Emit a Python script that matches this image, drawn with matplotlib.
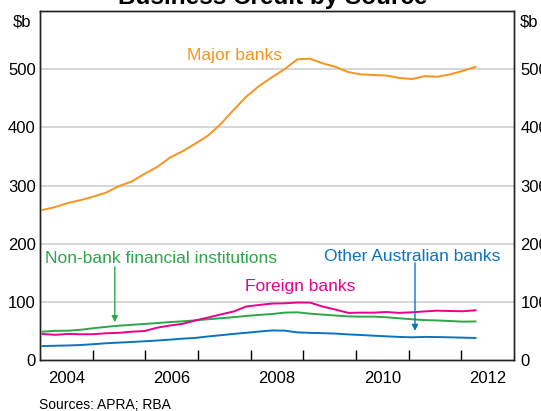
import numpy as np
import matplotlib
matplotlib.use("Agg")
import matplotlib.pyplot as plt

plt.rcParams['font.family'] = ['Liberation Sans', 'DejaVu Sans']

# evenly spaced observations, early 2004 to early 2012 (decimal years)
years = np.linspace(2004.05, 2012.27, 35)

major_banks = [258, 263, 270, 275, 281, 288, 299, 307, 320, 332, 348, 359,
               372, 386, 406, 430, 453, 471, 486, 500, 517, 518, 510, 504,
               495, 491, 490, 489, 485, 483, 488, 487, 491, 497, 504]
non_bank = [48.7, 50.2, 50.3, 52, 54.7, 57, 59, 60.5, 62, 63.5, 65.2, 66.5,
            68.2, 70, 71.8, 73.6, 75.8, 77.5, 79, 81.5, 82, 79.7, 78, 76.5,
            75, 74.5, 74.5, 73.5, 71.7, 70, 68.6, 68, 67, 65.9, 66.3]
foreign_banks = [44.7, 43.3, 44.8, 44.2, 44.4, 46, 46.7, 48.7, 49.8, 55.6, 59.3, 62.2,
                 68, 73, 78.4, 83.4, 92, 94.6, 97, 97.5, 98.8, 98.7, 91.8, 86.7,
                 81, 81.4, 81.4, 82.5, 81, 82, 83.5, 84.8, 84.2, 83.8, 85.5]
other_aus = [24, 24.5, 25, 25.8, 27.2, 28.8, 29.9, 31, 32.2, 33.5, 35, 36.7,
             38, 40.5, 42.6, 44.9, 46.8, 48.9, 50.8, 50.5, 47.5, 46.7, 46.1, 45.4,
             44, 43, 41.8, 40.7, 39.7, 39, 39.7, 39.4, 39, 38.4, 37.9]

yticks = [0, 100, 200, 300, 400, 500]
year_labels = ['2004', '2006', '2008', '2010', '2012']

orange = '#f7931e'
green = '#2ea64a'
pink = '#ec008c'
blue = '#0a74c0'

fig = plt.figure(figsize=(5.41, 4.11), dpi=100)
ax = fig.add_axes([40/541, 1-360/411, 474/541, 349/411])

for y in yticks[1:]:
    ax.axhline(y, color='#cfcfcf', lw=1.2, zorder=0)

ax.plot(years, major_banks, color=orange, lw=1.4)
ax.plot(years, non_bank, color=green, lw=1.4)
ax.plot(years, foreign_banks, color=pink, lw=1.4)
ax.plot(years, other_aus, color=blue, lw=1.4)

ax.set_xlim(2004, 2013)
ax.set_ylim(0, 600)
ax.set_yticks(yticks)
ax.tick_params(axis='y', length=0, pad=3, labelsize=12)

ax.set_xticks(np.arange(2005, 2013))
ax.set_xticklabels([])
ax.set_xticks([int(s) + 0.5 for s in year_labels], minor=True)
ax.set_xticklabels(year_labels, minor=True)
ax.tick_params(axis='x', which='major', direction='in', length=7, width=1)
ax.tick_params(axis='x', which='minor', length=0, pad=8, labelsize=12)

ax2 = ax.twinx()
ax2.set_ylim(0, 600)
ax2.set_yticks(yticks)
ax2.tick_params(axis='y', length=0, pad=4.5, labelsize=12)

for a in (ax, ax2):
    for sp in a.spines.values():
        sp.set_linewidth(1)
        sp.set_color('#222222')

ax.text(2006.785, 523, 'Major banks', color=orange, fontsize=12.5, va='center', ha='left')
ax.text(2004.09, 175, 'Non-bank financial institutions', color=green, fontsize=12.5,
        va='center', ha='left')
ax.text(2007.89, 127, 'Foreign banks', color=pink, fontsize=12.5, va='center', ha='left')
ax.text(2009.39, 178, 'Other Australian banks', color=blue, fontsize=12.5,
        va='center', ha='left')

ax.annotate('', xy=(2005.42, 65), xytext=(2005.42, 160),
            arrowprops=dict(arrowstyle='-|>', color=green, lw=1, mutation_scale=9,
                            shrinkA=0, shrinkB=0))
ax.annotate('', xy=(2011.12, 50), xytext=(2011.12, 167),
            arrowprops=dict(arrowstyle='-|>', color=blue, lw=1, mutation_scale=9,
                            shrinkA=0, shrinkB=0))

fig.text(273/541, 1 - 4/411, 'Business Credit by Source', ha='center', va='baseline',
         fontsize=17.5, fontweight='bold')
fig.text(13/541, 1 - 22/411, '$b', ha='left', va='center', fontsize=12)
fig.text(520/541, 1 - 22/411, '$b', ha='left', va='center', fontsize=12)
fig.text(39/541, 1 - 405/411, 'Sources: APRA; RBA', ha='left', va='center', fontsize=10)

fig.savefig('out.png', dpi=100)
